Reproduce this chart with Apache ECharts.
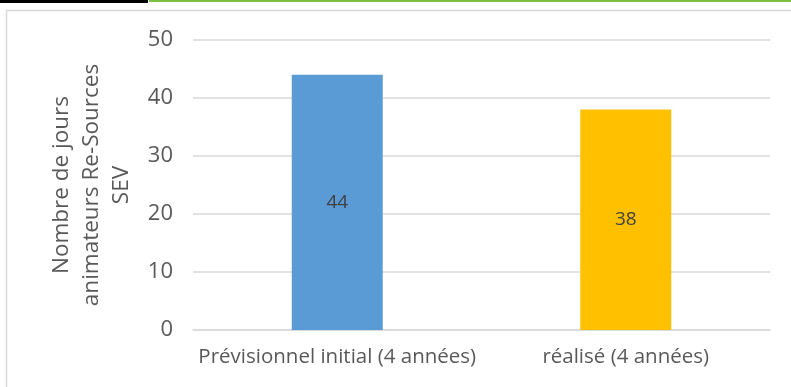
<!DOCTYPE html>
<html>
<head>
<meta charset="utf-8">
<script src="https://cdn.jsdelivr.net/npm/echarts@6/dist/echarts.min.js"></script>
<style>
  html, body { margin: 0; padding: 0; background: #fff; }
  #chart { width: 791px; height: 387px; }
</style>
</head>
<body>
<div id="chart"></div>
<script>
// Bar chart: planned vs. delivered facilitator days
const categories = ['Prévisionnel initial (4 années)', 'réalisé (4 années)'];
const values = [44, 38];
const barColors = ['#5B9BD5', '#FFC000'];
const yTicks = { min: 0, max: 50, interval: 10 };
const yTitle = 'Nombre de jours\nanimateurs Re-Sources\nSEV';

const FONT = 'Open Sans';
const chart = echarts.init(document.getElementById('chart'), null, { renderer: 'canvas' });

chart.setOption({
  animation: false,
  backgroundColor: '#fff',
  textStyle: { fontFamily: FONT },
  grid: { left: 193, right: 21, top: 40, bottom: 57, containLabel: false },
  graphic: [
    // Header rule above the chart frame
    { type: 'rect', shape: { x: 0, y: 0, width: 148, height: 3 }, style: { fill: '#000' }, silent: true },
    { type: 'rect', shape: { x: 149, y: 0, width: 642, height: 2 }, style: { fill: '#7AC143' }, silent: true },
    // Chart area frame
    { type: 'rect', shape: { x: 6.5, y: 10.5, width: 900, height: 500 }, style: { fill: 'none', stroke: '#D9D9D9', lineWidth: 1.5 }, silent: true }
  ],
  xAxis: {
    type: 'category',
    data: categories,
    axisTick: { show: false },
    axisLine: { lineStyle: { color: '#D9D9D9', width: 1.5 } },
    axisLabel: { color: '#595959', fontSize: 20.5, fontFamily: FONT, margin: 17, interval: 0 }
  },
  yAxis: {
    type: 'value',
    min: yTicks.min, max: yTicks.max, interval: yTicks.interval,
    name: yTitle,
    nameLocation: 'middle',
    nameRotate: 90,
    nameGap: 99,
    nameTextStyle: { color: '#595959', fontSize: 22.5, fontFamily: FONT, lineHeight: 30, align: 'center', verticalAlign: 'middle' },
    axisLine: { show: false },
    axisTick: { show: false },
    splitLine: { lineStyle: { color: '#D9D9D9', width: 1.5 } },
    axisLabel: { color: '#595959', fontSize: 22, fontFamily: FONT, margin: 20 }
  },
  series: [{
    type: 'bar',
    data: values.map((v, i) => ({ value: v, itemStyle: { color: barColors[i] } })),
    barWidth: 91,
    label: { show: true, position: 'inside', color: '#404040', fontSize: 19, fontFamily: FONT }
  }]
});
</script>
</body>
</html>
